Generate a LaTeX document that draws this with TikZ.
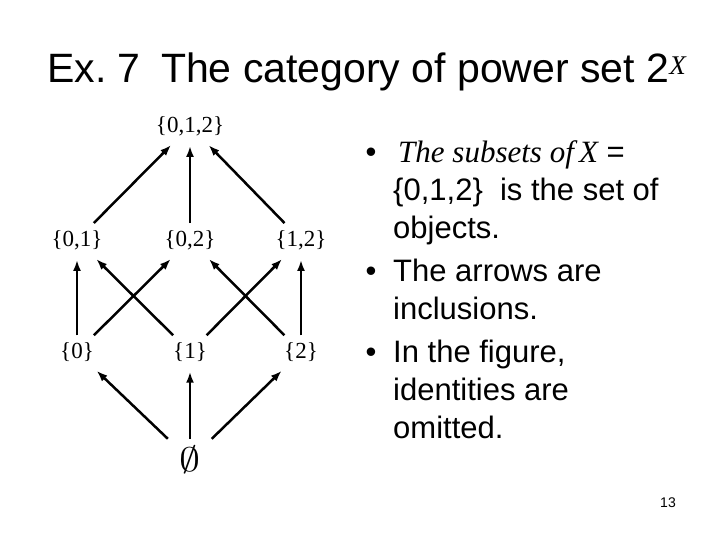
\documentclass[tikz,border=0pt]{standalone}
\usepackage{fontspec}
\usepackage{graphicx}
\setmainfont{Liberation Sans}
\newfontfamily\timesfont{Liberation Serif}
\usetikzlibrary{arrows.meta}
\frenchspacing

\begin{document}
\begin{tikzpicture}[x=1pt, y=1pt,
        set/.style={font=\timesfont\fontsize{23}{23}\selectfont, inner sep=7pt},
        incl/.style={-{Latex[length=11pt,width=8pt]}, line width=2.5pt, shorten >=3pt},
        item/.style={anchor=base west, inner sep=0pt, align=left, font=\fontsize{31}{38}\selectfont},
        dot/.style={anchor=base, inner sep=0pt, font=\fontsize{31}{38}\selectfont}]
    \useasboundingbox (0,0) rectangle (720,540);
    \node[anchor=base west, inner sep=0pt, font=\fontsize{41}{41}\selectfont] (title) at (47,457)
        {Ex. 7\hspace{0.5em}The category of power set 2\raisebox{8pt}{\fontsize{27}{27}\timesfont\itshape X}};
    % the lattice of subsets
    \node[set] (n012) at (190,414) {\{0,1,2\}};
    \node[set] (n01) at (77,300) {\{0,1\}};
    \node[set] (n02) at (190,300) {\{0,2\}};
    \node[set] (n12) at (301,300) {\{1,2\}};
    \node[set] (n0) at (77,188) {\{0\}};
    \node[set] (n1) at (190,188) {\{1\}};
    \node[set] (n2) at (301,188) {\{2\}};
    \node[set, minimum width=45pt, minimum height=42pt, font=\normalsize] (empty) at (190,80) {\scalebox{4.2}[3.4]{$\emptyset$}};
    \foreach \a/\b in {n01/n012, n02/n012, n12/n012, n0/n01, n0/n02, n1/n01, n1/n12, n2/n02, n2/n12, empty/n0, empty/n1, empty/n2}
        {
            \draw[incl] (\a) -- (\b);
        }
    % bullet list
    \node[dot] (b1) at (371,377) {\textbullet};
    \node[item] (i1) at (393,301) {\hspace{5pt}{\timesfont\itshape The subsets of\,X} =\\\{0,1,2\}\ \ is the set of\\objects.};
    \node[dot] (b2) at (371,258) {\textbullet};
    \node[item] (i2) at (393,220) {The arrows are\\inclusions.};
    \node[dot] (b3) at (371,177) {\textbullet};
    \node[item] (i3) at (393,101) {In the figure,\\identities are\\omitted.};
    \node[font=\fontsize{14}{14}\selectfont] (page) at (668,37) {13};
\end{tikzpicture}
\end{document}
